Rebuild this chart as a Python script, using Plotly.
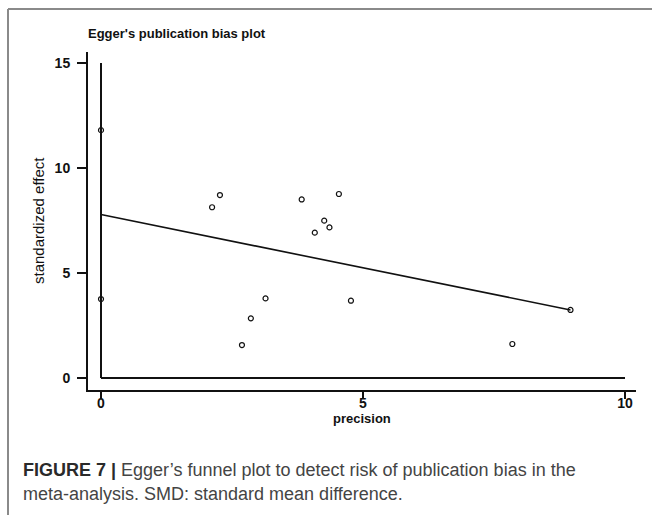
import plotly.graph_objects as go

# Data
precision = [0.0, 0.0, 2.12, 2.27, 2.69, 2.86, 3.14, 3.83, 4.08, 4.26, 4.36, 4.54, 4.77, 7.85, 8.96]
std_effect = [11.8, 3.76, 8.13, 8.71, 1.57, 2.84, 3.79, 8.50, 6.92, 7.49, 7.17, 8.76, 3.68, 1.62, 3.24]
fit_x = [0.0, 8.96]
fit_y = [7.78, 3.24]
x_ticks = [0, 5, 10]
y_ticks = [0, 5, 10, 15]

W, H = 652, 515
L, R, T, B = 88, 16, 52, 125
pw, ph = W - L - R, H - T - B

def px(x):
    return (x - L) / pw

def py(y):
    return (H - B - y) / ph

FONT = "Liberation Sans, Arial, sans-serif"

fig = go.Figure()
fig.add_trace(go.Scatter(x=fit_x, y=fit_y, mode="lines",
                         line=dict(color="#111", width=1.6), hoverinfo="skip"))
fig.add_trace(go.Scatter(x=precision, y=std_effect, mode="markers",
                         marker=dict(symbol="circle-open", size=5, color="#111",
                                     line=dict(width=1.2, color="#111"))))

shapes = [
    # reference lines at x=0 and y=0
    dict(type="line", xref="x", yref="y", x0=x_ticks[0], x1=x_ticks[0], y0=y_ticks[0], y1=y_ticks[-1],
         line=dict(color="#111", width=2)),
    dict(type="line", xref="x", yref="y", x0=x_ticks[0], x1=x_ticks[-1], y0=y_ticks[0], y1=y_ticks[0],
         line=dict(color="#111", width=2)),
    # outer frame (top and left grey borders)
    dict(type="line", xref="paper", yref="paper", x0=px(8), x1=px(652), y0=py(9), y1=py(9),
         line=dict(color="#8a8a8a", width=2)),
    dict(type="line", xref="paper", yref="paper", x0=px(8), x1=px(8), y0=py(9), y1=py(515),
         line=dict(color="#8a8a8a", width=2)),
]

annotations = [
    dict(text="<b>Egger's publication bias plot</b>", xref="paper", yref="paper",
         x=px(86), y=py(34), xanchor="left", yanchor="middle", showarrow=False,
         font=dict(family=FONT, size=13, color="#111")),
    dict(text="<b><span style='color:#2a2a2a'>FIGURE 7 |</span></b> Egger\u2019s funnel plot to detect risk of publication bias in the",
         xref="paper", yref="paper", x=px(21), y=py(470), xanchor="left", yanchor="middle",
         showarrow=False, font=dict(family=FONT, size=18, color="#444444")),
    dict(text="meta-analysis. SMD: standard mean difference.",
         xref="paper", yref="paper", x=px(21), y=py(494), xanchor="left", yanchor="middle",
         showarrow=False, font=dict(family=FONT, size=18, color="#444444")),
    dict(text="standardized effect", xref="paper", yref="paper", x=px(38), y=py(221),
         xanchor="center", yanchor="middle", textangle=-90, showarrow=False,
         font=dict(family=FONT, size=15, color="#111")),
    dict(text="<b>precision</b>", xref="paper", yref="paper", x=px(362), y=py(418),
         xanchor="center", yanchor="middle", showarrow=False,
         font=dict(family=FONT, size=13, color="#111")),
]

fig.update_layout(
    width=W, height=H,
    margin=dict(l=L, r=R, t=T, b=B, pad=0),
    paper_bgcolor="white", plot_bgcolor="white",
    showlegend=False,
    shapes=shapes, annotations=annotations,
    xaxis=dict(range=[-0.248, 10.21], tickvals=x_ticks, ticktext=[f"<b>{v}</b>" for v in x_ticks],
               showgrid=False, zeroline=False, showline=True, linecolor="#111", linewidth=2,
               ticks="outside", ticklen=7, tickwidth=1.5, tickcolor="#111",
               ticklabelstandoff=-8,
               tickfont=dict(family=FONT, size=14, color="#111")),
    yaxis=dict(range=[-0.571, 15.52], tickvals=y_ticks, ticktext=[f"<b>{v}</b>" for v in y_ticks],
               showgrid=False, zeroline=False, showline=True, linecolor="#111", linewidth=2,
               ticks="outside", ticklen=9, tickwidth=1.5, tickcolor="#111",
               ticklabelstandoff=4,
               tickfont=dict(family=FONT, size=14, color="#111")),
)

fig.write_html("out.html")
